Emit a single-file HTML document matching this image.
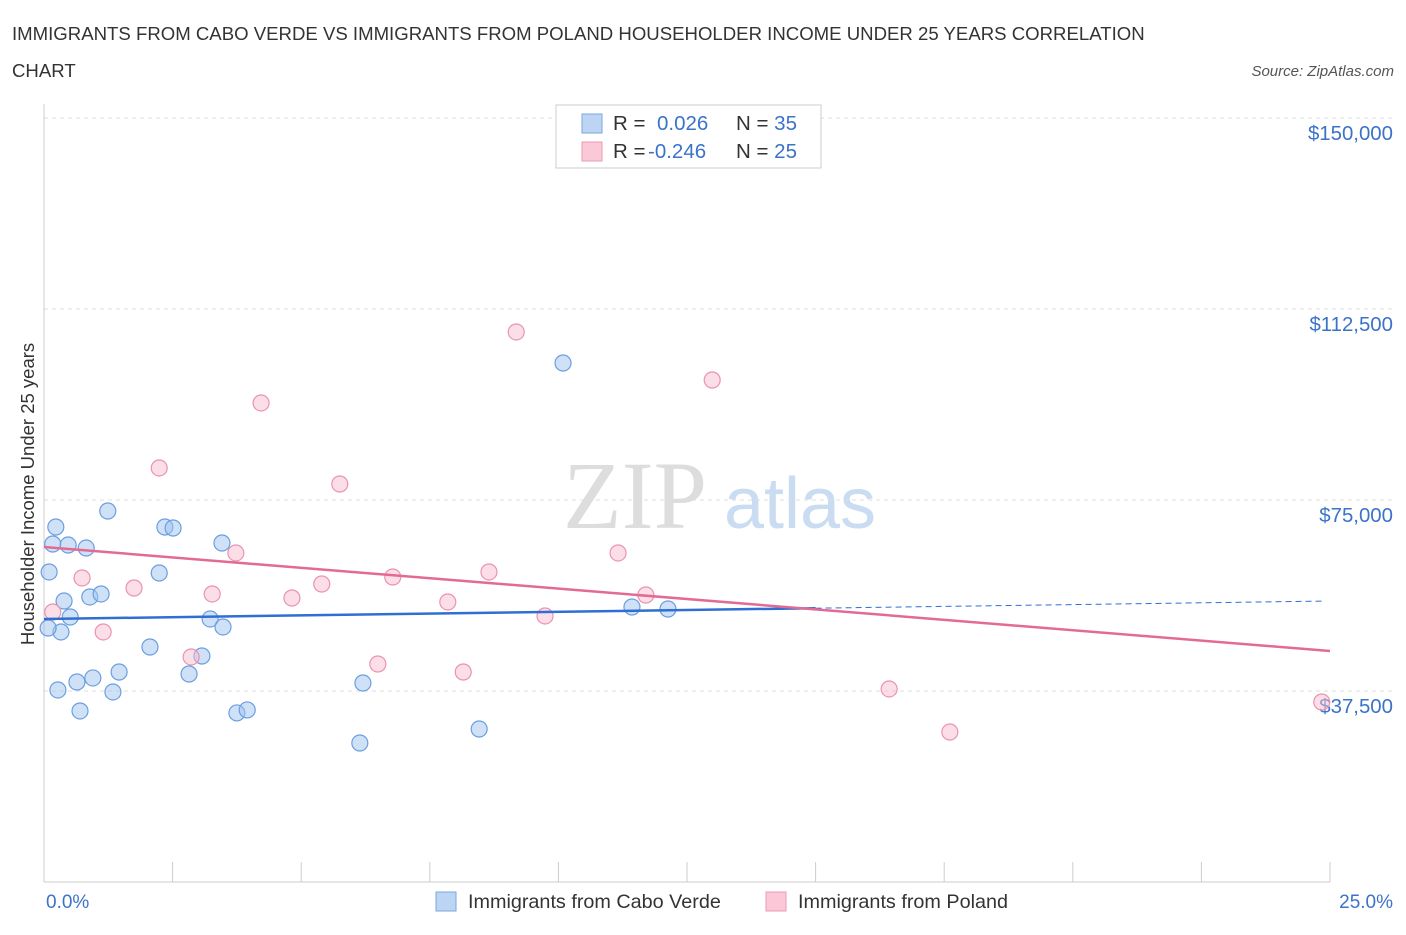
<!DOCTYPE html>
<html><head><meta charset="utf-8"><style>
body{margin:0;background:#fff;font-family:"Liberation Sans",sans-serif;}
</style></head><body>
<svg width="1406" height="930" xmlns="http://www.w3.org/2000/svg" id="svg" font-family="Liberation Sans, sans-serif">
<text x="12" y="40" font-size="18.6" fill="#333">IMMIGRANTS FROM CABO VERDE VS IMMIGRANTS FROM POLAND HOUSEHOLDER INCOME UNDER 25 YEARS CORRELATION</text>
<text x="12" y="77" font-size="18.6" fill="#333">CHART</text>
<text x="1394" y="76" font-size="15" fill="#555" font-style="italic" text-anchor="end">Source: ZipAtlas.com</text>
<text x="635" y="528" font-size="96" fill="#ddd" font-family="Liberation Serif, serif" text-anchor="middle">ZIP</text>
<text x="800" y="528" font-size="72" fill="#c9dcf2" text-anchor="middle">atlas</text>
<g id="grid"></g>
<line x1="44" y1="104" x2="44" y2="882" stroke="#ccc"/>
<line x1="44" y1="882" x2="1330" y2="882" stroke="#ccc"/>
<text transform="translate(34,494) rotate(-90)" font-size="18.5" fill="#333" text-anchor="middle">Householder Income Under 25 years</text>
<text x="46" y="908" font-size="19" fill="#3b73c9">0.0%</text>
<text x="1393" y="908" font-size="19" fill="#3b73c9" text-anchor="end">25.0%</text>
<g id="marks"></g>
<g>
<rect x="556" y="105" width="265" height="63" fill="#fff" stroke="#ccc"/>
<rect x="582" y="114" width="20" height="19" fill="#bcd5f5" stroke="#7aa6e0"/>
<rect x="582" y="142" width="20" height="19" fill="#fac8d6" stroke="#ee9ab4"/>
<text x="613" y="130" font-size="20.5" fill="#333">R = <tspan fill="#3b73c9" x="657">0.026</tspan><tspan x="736" fill="#333">N = </tspan><tspan fill="#3b73c9">35</tspan></text>
<text x="613" y="158" font-size="20.5" fill="#333">R = <tspan fill="#3b73c9" x="648">-0.246</tspan><tspan x="736" fill="#333">N = </tspan><tspan fill="#3b73c9">25</tspan></text>
</g>
<g>
<rect x="436" y="892" width="20" height="19" fill="#bcd5f5" stroke="#7aa6e0"/>
<text x="468" y="908" font-size="19.8" fill="#333">Immigrants from Cabo Verde</text>
<rect x="766" y="892" width="20" height="19" fill="#fac8d6" stroke="#ee9ab4"/>
<text x="798" y="908" font-size="19.8" fill="#333">Immigrants from Poland</text>
</g>
</svg>
<script>
const yTicks=[37500,75000,112500,150000];
const yTickLabels=["$37,500","$75,000","$112,500","$150,000"];
const xTicks=[0,2.5,5,7.5,10,12.5,15,17.5,20,22.5,25];
const blueX=[0.23,0.17,0.47,0.82,0.10,1.24,2.35,2.51,3.46,2.24,0.39,0.89,1.11,0.51,3.23,3.48,0.33,0.08,2.06,3.07,2.82,1.46,0.95,0.64,0.27,1.34,0.70,3.75,3.95,6.20,6.14,8.46,10.09,11.43,12.13];
const blueY=[69700,66360,66160,65570,60870,72840,69700,69500,66560,60670,55170,55960,56550,52030,51640,50070,49090,49870,46140,44370,40840,41230,40060,39270,37700,37310,33580,33190,33780,39070,27290,30040,101900,53990,53600];
const pinkX=[9.18,12.99,4.22,2.24,5.75,3.73,11.16,0.74,1.75,3.27,4.82,5.40,6.78,8.65,7.85,9.74,11.70,0.17,1.15,2.86,6.49,8.15,16.43,17.61,24.84];
const pinkY=[107990,98560,94050,81290,78140,64600,64600,59690,57720,56550,55760,58510,59880,60870,54980,52230,56350,53010,49090,44180,42800,41230,37900,29450,35340];
const blueTrend=[51640,55170];
const pinkTrend=[65770,45350];
const NS="http://www.w3.org/2000/svg";
const xs=p=>44+p/25*1286;
const ys=v=>882-v/37500*191;
function mk(tag,at,parent){const e=document.createElementNS(NS,tag);for(const k in at)e.setAttribute(k,at[k]);parent.appendChild(e);return e;}
const grid=document.getElementById('grid'),marks=document.getElementById('marks');
yTicks.forEach((t,i)=>{
 const l=mk('line',{x1:44,x2:1394,y1:ys(t),y2:ys(t),stroke:'#ddd','stroke-dasharray':'4,4'},grid);
 
 
 const tx=mk('text',{x:1393,y:ys(t)+22,'font-size':20.4,fill:'#3b73c9','text-anchor':'end'},grid);
 tx.textContent=yTickLabels[i];
 
 
});
xTicks.forEach(t=>{
 const l=mk('line',{x1:xs(t),x2:xs(t),y1:862,y2:882,stroke:'#ccc'},grid);
 
 
});
blueX.forEach((x,i)=>{
 const c=mk('circle',{cx:xs(x),cy:ys(blueY[i]),r:8,fill:'rgba(160,196,240,0.5)',stroke:'#6b9ee0','stroke-width':1.2},marks);
 
 
});
pinkX.forEach((x,i)=>{
 const c=mk('circle',{cx:xs(x),cy:ys(pinkY[i]),r:8,fill:'rgba(248,190,208,0.5)',stroke:'#ea93ae','stroke-width':1.2},marks);
 
 
});
const bAt=p=>blueTrend[0]+(blueTrend[1]-blueTrend[0])*p/25;
let l1=mk('line',{x1:xs(0),y1:ys(bAt(0)),x2:xs(15),y2:ys(bAt(15)),stroke:'#2f6fd1','stroke-width':2.5},marks);


let l2=mk('line',{x1:xs(15),y1:ys(bAt(15)),x2:xs(24.9),y2:ys(bAt(24.9)),stroke:'#2f6fd1','stroke-width':1,'stroke-dasharray':'6,4'},marks);


let l3=mk('line',{x1:xs(0),y1:ys(pinkTrend[0]),x2:xs(25),y2:ys(pinkTrend[1]),stroke:'#e46a96','stroke-width':2.5},marks);


</script>
</body></html>
